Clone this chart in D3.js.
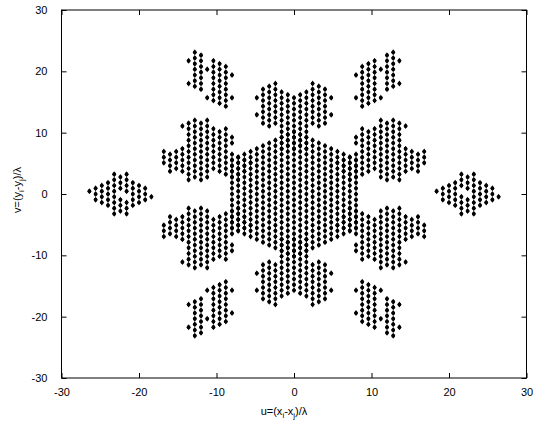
<!DOCTYPE html>
<html>
<head>
<meta charset="utf-8">
<script src="https://cdn.jsdelivr.net/npm/d3@7"></script>
<style>
body { margin: 0; background: #fff; }
text { font-family: Arial, "Liberation Sans", sans-serif; fill: #000; }
</style>
</head>
<body>
<script>
var xTicks = [-30, -20, -10, 0, 10, 20, 30];
var yTicks = [-30, -20, -10, 0, 10, 20, 30];
// baseline steps: u per column, v per half-row
var du = 0.8, dv = 0.462;

// bitmaps: one string per row (top row = nTop), one char per column (from cLeft)
var outerLeft = { cLeft: -33, nTop: 7, rows: [
  "....#.#....",
  ".....#.....",
  "....#.#....",
  "...#.#.#...",
  "..#.#.#.#..",
  ".#.#.#.#.#.",
  "#.#.#.#.#..",
  ".#.#...#.#.",
  "..#.#...#.#",
  ".#.#.#.#.#.",
  "..#.#.#.#..",
  "...#.#.#...",
  "....#.#....",
  ".....#.....",
  "....#.#...."
]};
var outerTopLeft = { cLeft: -17, nTop: 50, rows: [
  ".#......",
  "..#.....",
  ".#......",
  "#.#.#...",
  ".#...#..",
  "..#.#.#.",
  ".#.#.#..",
  "..#.#.#.",
  ".#...#.#",
  "..#.#.#.",
  ".#...#..",
  "#.#.#.#.",
  ".#...#..",
  "..#.#.#.",
  ".....#..",
  "....#.#.",
  "...#.#.#",
  "....#.#.",
  ".....#..",
  "......#."
]};
var armTop = { cLeft: -6, nTop: 39, rows: [
  "...#.....#...",
  "..#.......#..",
  ".#.#.....#.#.",
  "..#.#...#.#..",
  ".#.#.#.#.#.#.",
  "#.#.#.#.#.#.#",
  ".#.#.#.#.#.#.",
  "..#.#.#.#.#..",
  ".#.#.#.#.#.#.",
  "..#.#.#.#.#..",
  ".#.#.#.#.#.#.",
  "#.#.#.#.#.#.#",
  ".#.#.#.#.#.#.",
  "..#.#.#.#.#..",
  ".#.#.#.#.#.#.",
  "..#.#.#.#.#..",
  ".....#.#.....",
  "....#.#.#....",
  ".....#.#.....",
  "....#.#.#....",
  ".....#.#.....",
  "....#.#.#....",
  ".....#.#.....",
  "....#.#.#...."
]};
var armTopLeft = { cLeft: -21, nTop: 26, rows: [
  ".....#.#.......",
  "....#.#........",
  "...#.#.#.......",
  "....#.#.#.#....",
  ".....#.#.#.....",
  "....#.#.#.#....",
  ".....#.#.#.#...",
  "....#.#.#.#....",
  ".....#.#.#.#...",
  "....#.#.#.#....",
  "...#.#.#.#.....",
  "#.#.#.#.#.#....",
  ".#.#.#.#.#.#...",
  "#.#.#.#.#.#.#..",
  ".#.#.#.#.#.#.#.",
  "#.#.#.#.#.#.#.#",
  ".#.#.#.#.#.#.#.",
  "..#.#.#.#.#.#..",
  ".#.#.#.#.#.#.#.",
  "....#.#...#.#..",
  ".....#.#...#...",
  "....#.#.....#.."
]};
var center = { cLeft: -10, nTop: 22, rows: [
  "..........#..........",
  ".........#.#.........",
  "........#.#.#........",
  ".......#.#.#.#.......",
  "......#.#.#.#.#......",
  ".....#.#.#.#.#.#.....",
  "....#.#.#.#.#.#.#....",
  "...#.#.#.#.#.#.#.#...",
  "..#.#.#.#.#.#.#.#.#..",
  ".#.#.#.#.#.#.#.#.#.#.",
  "#.#.#.#.#.#.#.#.#.#.#",
  ".#.#.#.#.#.#.#.#.#.#.",
  "#.#.#.#.#.#.#.#.#.#.#",
  ".#.#.#.#.#.#.#.#.#.#.",
  "#.#.#.#.#.#.#.#.#.#.#",
  ".#.#.#.#.#.#.#.#.#.#.",
  "#.#.#.#.#.#.#.#.#.#.#",
  ".#.#.#.#.#.#.#.#.#.#.",
  "#.#.#.#.#.#.#.#.#.#.#",
  ".#.#.#.#.#.#.#.#.#.#.",
  "#.#.#.#.#.#.#.#.#.#.#",
  ".#.#.#.#.#.#.#.#.#.#.",
  "#.#.#.#.#.#.#.#.#.#.#",
  ".#.#.#.#.#.#.#.#.#.#.",
  "#.#.#.#.#.#.#.#.#.#.#",
  ".#.#.#.#.#.#.#.#.#.#.",
  "#.#.#.#.#.#.#.#.#.#.#",
  ".#.#.#.#.#.#.#.#.#.#.",
  "#.#.#.#.#.#.#.#.#.#.#",
  ".#.#.#.#.#.#.#.#.#.#.",
  "#.#.#.#.#.#.#.#.#.#.#",
  ".#.#.#.#.#.#.#.#.#.#.",
  "#.#.#.#.#.#.#.#.#.#.#",
  ".#.#.#.#.#.#.#.#.#.#.",
  "#.#.#.#.#.#.#.#.#.#.#",
  ".#.#.#.#.#.#.#.#.#.#.",
  "..#.#.#.#.#.#.#.#.#..",
  "...#.#.#.#.#.#.#.#...",
  "....#.#.#.#.#.#.#....",
  ".....#.#.#.#.#.#.....",
  "......#.#.#.#.#......",
  ".......#.#.#.#.......",
  "........#.#.#........",
  ".........#.#.........",
  "..........#.........."
]};

// where each cluster sits: bitmap plus sign of u and v (the coverage is symmetric)
var placements = [
  { m: center,       su: 1,  sv: 1 },
  { m: outerLeft,    su: 1,  sv: 1 },
  { m: outerLeft,    su: -1, sv: -1 },
  { m: outerTopLeft, su: 1,  sv: 1 },
  { m: outerTopLeft, su: -1, sv: 1 },
  { m: outerTopLeft, su: 1,  sv: -1 },
  { m: outerTopLeft, su: -1, sv: -1 },
  { m: armTop,       su: 1,  sv: 1 },
  { m: armTop,       su: 1,  sv: -1 },
  { m: armTopLeft,   su: 1,  sv: 1 },
  { m: armTopLeft,   su: -1, sv: 1 },
  { m: armTopLeft,   su: 1,  sv: -1 },
  { m: armTopLeft,   su: -1, sv: -1 }
];

var points = [];
placements.forEach(function(p) {
  p.m.rows.forEach(function(r, i) {
    for (var j = 0; j < r.length; j++) {
      if (r[j] === '#') points.push({ u: p.su * (p.m.cLeft + j) * du, v: p.sv * (p.m.nTop - i) * dv });
    }
  });
});

var svg = d3.select('body').append('svg').attr('width', 536).attr('height', 421);
var x = d3.scaleLinear().domain([-30, 30]).range([61.5, 526.5]);
var y = d3.scaleLinear().domain([-30, 30]).range([378, 10]);
var fmt = function(d){ return String(d); };

svg.append('rect').attr('x', 61.5).attr('y', 10).attr('width', 465).attr('height', 368)
  .attr('fill', 'none').attr('stroke', '#000').attr('stroke-width', 1);

svg.append('g').attr('transform', 'translate(0,378)')
  .call(d3.axisBottom(x).tickValues(xTicks).tickFormat(fmt).tickSizeInner(-5).tickSizeOuter(0).tickPadding(10))
  .call(function(g){ g.select('.domain').remove(); });
svg.append('g').attr('transform', 'translate(61.5,0)')
  .call(d3.axisLeft(y).tickValues(yTicks).tickFormat(fmt).tickSizeInner(-5).tickSizeOuter(0).tickPadding(14))
  .call(function(g){ g.select('.domain').remove(); });
svg.append('g').attr('transform', 'translate(0,10)')
  .call(d3.axisTop(x).tickValues(xTicks).tickSizeInner(-5).tickSizeOuter(0).tickFormat(''))
  .call(function(g){ g.select('.domain').remove(); });
svg.append('g').attr('transform', 'translate(526.5,0)')
  .call(d3.axisRight(y).tickValues(yTicks).tickSizeInner(-5).tickSizeOuter(0).tickFormat(''))
  .call(function(g){ g.select('.domain').remove(); });
svg.selectAll('.tick text').attr('font-size', 11).attr('font-family', 'Arial, Liberation Sans, sans-serif');
svg.selectAll('.tick line').attr('stroke', '#000');

// marker: small dot with a vertical diamond, like the scanned points
var dots = svg.append('g').selectAll('g').data(points).enter().append('g')
  .attr('transform', function(d){ return 'translate(' + x(d.u) + ',' + y(d.v) + ')'; });
dots.append('path').attr('d', 'M0,-3L2,0L0,3L-2,0Z').attr('fill', '#000');
dots.append('circle').attr('r', 1.85).attr('fill', '#000');

var xl = svg.append('text').attr('x', 284).attr('y', 415).attr('text-anchor', 'middle').attr('font-size', 11);
xl.append('tspan').text('u=(x');
xl.append('tspan').attr('font-size', 8).attr('dy', 3).text('i');
xl.append('tspan').attr('dy', -3).text('-x');
xl.append('tspan').attr('font-size', 8).attr('dy', 3).text('j');
xl.append('tspan').attr('dy', -3).text(')/λ');

var yl = svg.append('text').attr('transform', 'translate(21,190) rotate(-90)').attr('text-anchor', 'middle').attr('font-size', 11);
yl.append('tspan').text('v=(y');
yl.append('tspan').attr('font-size', 8).attr('dy', 3).text('i');
yl.append('tspan').attr('dy', -3).text('-y');
yl.append('tspan').attr('font-size', 8).attr('dy', 3).text('j');
yl.append('tspan').attr('dy', -3).text(')/λ');
</script>
</body>
</html>
